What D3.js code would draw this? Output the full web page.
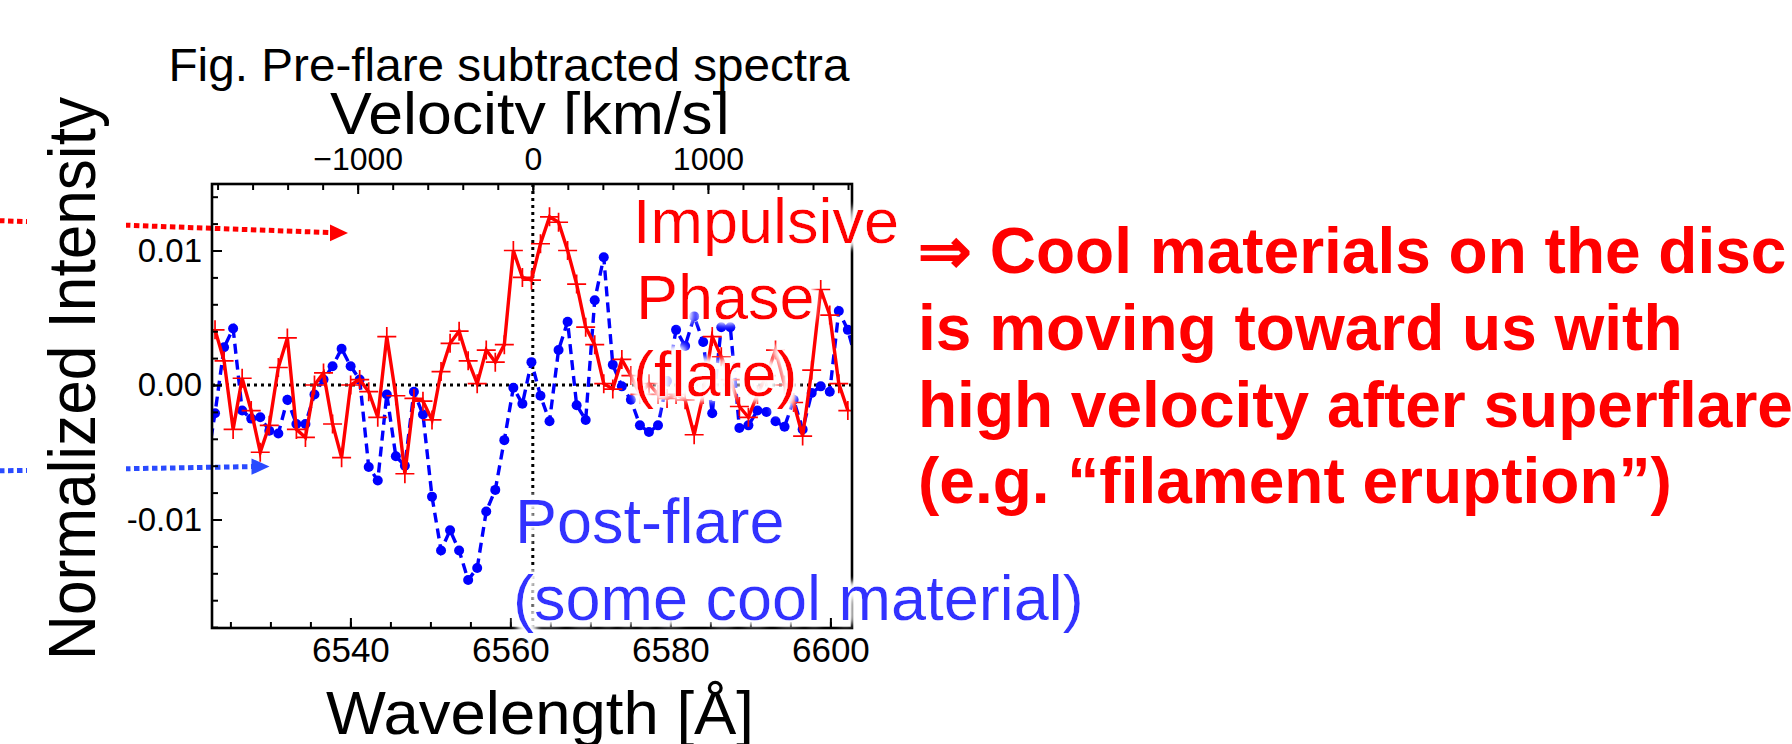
<!DOCTYPE html>
<html>
<head>
<meta charset="utf-8">
<script src="https://cdn.jsdelivr.net/npm/d3@7"></script>
<style>
  body { margin: 0; background: #fff; }
  svg { display: block; }
  text { font-family: "Liberation Sans", Arial, Helvetica, sans-serif; }
</style>
</head>
<body>
<svg id="chart" width="1792" height="744"></svg>
<script>
// Wavelength grid of the spectra [Å]
const wavelength = [
  6521.95, 6523.08, 6524.21, 6525.34, 6526.47, 6527.60, 6528.73, 6529.86, 6530.99, 6532.12,
  6533.25, 6534.38, 6535.51, 6536.64, 6537.77, 6538.90, 6540.03, 6541.16, 6542.29, 6543.42,
  6544.55, 6545.68, 6546.81, 6547.94, 6549.07, 6550.20, 6551.33, 6552.46, 6553.59, 6554.72,
  6555.85, 6556.98, 6558.11, 6559.24, 6560.37, 6561.50, 6562.63, 6563.76, 6564.89, 6566.02,
  6567.15, 6568.28, 6569.41, 6570.54, 6571.67, 6572.80, 6573.93, 6575.06, 6576.19, 6577.32,
  6578.45, 6579.58, 6580.71, 6581.84, 6582.97, 6584.10, 6585.23, 6586.36, 6587.49, 6588.62,
  6589.75, 6590.88, 6592.01, 6593.14, 6594.27, 6595.40, 6596.53, 6597.66, 6598.79, 6599.92,
  6601.05, 6602.18, 6603.31
];

// Pre-flare subtracted intensity, impulsive phase (flare)
const impulsive = [
  null,
  0.0041, 0.0018, -0.0033, 0.0005, -0.0019, -0.0050, -0.0030, 0.0013, 0.0035,
  -0.0033, -0.0039, 0.0000, 0.0009, -0.0029, -0.0054, 0.0000, 0.0004, -0.0005, -0.0024,
  0.0036, -0.0008, -0.0066, -0.0010, -0.0012, -0.0026, 0.0010, 0.0031, 0.0040, 0.0018,
  0.0001, 0.0026, 0.0017, 0.0030, 0.0100, 0.0080, 0.0078, 0.0105, 0.0125, 0.0121,
  0.0100, 0.0075, 0.0043, 0.0030, 0.0001, -0.0003, 0.0019, 0.0007, -0.0007, 0.0001,
  -0.0007, -0.0010, -0.0007, -0.0011, -0.0037, -0.0007, 0.0036, 0.0021, 0.0004, -0.0016,
  -0.0024, -0.0007, 0.0007, 0.0026, 0.0000, -0.0013, -0.0038, 0.0011, 0.0071, 0.0052,
  0.0001, -0.0019,
  null
];

// Pre-flare subtracted intensity, post-flare
const postFlare = [
  -0.0063,
  -0.0021, 0.0028, 0.0042, -0.0019, -0.0025, -0.0024, -0.0034, -0.0036, -0.0011,
  -0.0029, -0.0029, -0.0007, 0.0004, 0.0014, 0.0027, 0.0014, 0.0004, -0.0061, -0.0071,
  -0.0007, -0.0053, -0.0060, -0.0005, -0.0022, -0.0083, -0.0123, -0.0108, -0.0123, -0.0145,
  -0.0136, -0.0094, -0.0078, -0.0041, -0.0002, -0.0014, 0.0017, -0.0008, -0.0027, 0.0026,
  0.0047, -0.0015, -0.0026, 0.0063, 0.0095, 0.0015, -0.0001, -0.0011, -0.0030, -0.0035,
  -0.0030, 0.0003, 0.0041, 0.0029, 0.0051, 0.0032, -0.0021, 0.0043, 0.0043, -0.0032,
  -0.0030, -0.0019, -0.0020, -0.0027, -0.0031, -0.0011, -0.0033, -0.0006, -0.0001, -0.0005,
  0.0055, 0.0041,
  0.0016
];

// Axis ticks and their labels
const wavelengthTicks = [6540, 6560, 6580, 6600];
const intensityTicks = [-0.01, 0, 0.01];
const intensityTickLabels = ["-0.01", "0.00", "0.01"];
const velocityTicks = [-1000, 0, 1000];
const velocityTickLabels = ["\u22121000", "0", "1000"];

// Text
const titleText = "Fig. Pre-flare subtracted spectra";
const xTitle = "Wavelength [\u00c5]";
const yTitle = "Normalized Intensity";
const topTitle = "Velocity [km/s]";
const flareNote = ["Impulsive", "Phase", "(flare)"];
const postNote = ["Post-flare", "(some cool material)"];
const conclusion = [
  "\u21d2 Cool materials on the disc",
  "is moving toward us with",
  "high velocity after superflare",
  "(e.g. \u201cfilament eruption\u201d)"
];

const HALPHA = 6562.8;          // line centre [Å]
const C_KMS = 299792.458;       // speed of light [km/s]

const RED = "#ff0000";
const BLUE = "#0000ff";
const NOTE_BLUE = "#3333ff";
const ARROW_BLUE = "#2a4bff";

const svg = d3.select("#chart");
const box = { left: 212, right: 852, top: 184, bottom: 628 };

const x = d3.scaleLinear().domain([6522.7, 6602.7]).range([box.left, box.right]);
const y = d3.scaleLinear().domain([-0.018067, 0.014944]).range([box.bottom, box.top]);
const xv = d3.scaleLinear()
  .domain(x.domain().map(l => C_KMS * (l / HALPHA - 1)))
  .range(x.range());

// ---------- defs ----------
const defs = svg.append("defs");
defs.append("clipPath").attr("id", "plot-clip")
  .append("rect")
  .attr("x", box.left).attr("y", box.top)
  .attr("width", box.right - box.left).attr("height", box.bottom - box.top);
defs.append("clipPath").attr("id", "vel-clip")
  .append("rect").attr("x", 0).attr("y", 0).attr("width", 1792).attr("height", 134);

const halo = defs.append("filter").attr("id", "halo")
  .attr("x", "-10%").attr("y", "-20%").attr("width", "120%").attr("height", "140%");
halo.append("feMorphology").attr("in", "SourceAlpha").attr("operator", "dilate")
  .attr("radius", 3).attr("result", "fat");
halo.append("feGaussianBlur").attr("in", "fat").attr("stdDeviation", 3.5).attr("result", "soft");
halo.append("feFlood").attr("flood-color", "#ffffff").attr("result", "white");
halo.append("feComposite").attr("in", "white").attr("in2", "soft").attr("operator", "in").attr("result", "glow");
const merge = halo.append("feMerge");
merge.append("feMergeNode").attr("in", "glow");
merge.append("feMergeNode").attr("in", "glow");
merge.append("feMergeNode").attr("in", "SourceGraphic");

// ---------- pointer arrows from the left ----------
const arrows = svg.append("g");
arrows.append("line")
  .attr("x1", -10).attr("y1", 220.3).attr("x2", 331).attr("y2", 232.6)
  .attr("stroke", RED).attr("stroke-width", 5).attr("stroke-dasharray", "5.5 3.5");
arrows.append("path")
  .attr("d", "M330,224.6L348,232.9L330,241.2Z").attr("fill", RED);
arrows.append("line")
  .attr("x1", -10).attr("y1", 471).attr("x2", 252).attr("y2", 466.6)
  .attr("stroke", ARROW_BLUE).attr("stroke-width", 5).attr("stroke-dasharray", "5.5 3.5");
arrows.append("path")
  .attr("d", "M251.5,458.4L269.5,466.6L251.5,474.8Z").attr("fill", ARROW_BLUE);
// label backing box (hides the arrow tails behind the y title)
svg.append("rect").attr("x", 27).attr("y", 0).attr("width", 99).attr("height", 744).attr("fill", "#fff");

// ---------- reference lines ----------
const refs = svg.append("g").attr("stroke", "#000").attr("stroke-width", 3).attr("stroke-dasharray", "3 4");
refs.append("line").attr("x1", box.left).attr("x2", box.right).attr("y1", y(0)).attr("y2", y(0));
refs.append("line").attr("x1", x(HALPHA)).attr("x2", x(HALPHA)).attr("y1", box.top).attr("y2", box.bottom);

// ---------- data ----------
const postData = wavelength.map((w, i) => ({ w, v: postFlare[i] }));
const flareData = wavelength.map((w, i) => ({ w, v: impulsive[i] }));

const line = d3.line().defined(d => d.v != null).x(d => x(d.w)).y(d => y(d.v));
const dataG = svg.append("g").attr("clip-path", "url(#plot-clip)");

dataG.append("path").datum(postData)
  .attr("d", line).attr("fill", "none").attr("stroke", BLUE)
  .attr("stroke-width", 3.4).attr("stroke-dasharray", "10 6");
dataG.append("g").selectAll("circle").data(postData).join("circle")
  .attr("cx", d => x(d.w)).attr("cy", d => y(d.v)).attr("r", 5).attr("fill", BLUE);

dataG.append("path").datum(flareData)
  .attr("d", line).attr("fill", "none").attr("stroke", RED)
  .attr("stroke-width", 3.4).attr("stroke-linejoin", "miter");
dataG.append("g").selectAll("path").data(flareData.filter(d => d.v != null)).join("path")
  .attr("d", "M-9.5,0H9.5M0,-9.5V9.5")
  .attr("transform", d => `translate(${x(d.w)},${y(d.v)})`)
  .attr("stroke", RED).attr("stroke-width", 1.7).attr("fill", "none");

// ---------- axes ----------
function styleTicks(g, w) {
  g.select(".domain").remove();
  g.selectAll(".tick line").attr("stroke", "#000").attr("stroke-width", w);
}

// bottom: wavelength
svg.append("g").attr("transform", `translate(0,${box.bottom})`)
  .call(d3.axisBottom(x).tickValues(d3.range(6525, 6601, 5)).tickSize(-6).tickFormat(""))
  .call(g => styleTicks(g, 2));
const gx = svg.append("g").attr("transform", `translate(0,${box.bottom})`)
  .call(d3.axisBottom(x).tickValues(wavelengthTicks).tickSize(-10).tickPadding(9).tickFormat(d3.format("d")))
  .call(g => styleTicks(g, 2));
gx.selectAll("text").attr("font-size", 35).attr("fill", "#000").attr("font-family", null);

// left: intensity
svg.append("g").attr("transform", `translate(${box.left},0)`)
  .call(d3.axisLeft(y).tickValues(d3.range(-9, 8).map(k => k * 0.002)).tickSize(-6).tickFormat(""))
  .call(g => styleTicks(g, 2));
const gy = svg.append("g").attr("transform", `translate(${box.left},0)`)
  .call(d3.axisLeft(y).tickValues(intensityTicks).tickSize(-10).tickPadding(10)
    .tickFormat((d, i) => intensityTickLabels[i]))
  .call(g => styleTicks(g, 2));
gy.selectAll("text").attr("font-size", 33).attr("fill", "#000").attr("font-family", null);

// top: velocity
svg.append("g").attr("transform", `translate(0,${box.top})`)
  .call(d3.axisTop(xv).tickValues(d3.range(-9, 10).map(k => k * 200)).tickSize(-6).tickFormat(""))
  .call(g => styleTicks(g, 2));
const gt = svg.append("g").attr("transform", `translate(0,${box.top})`)
  .call(d3.axisTop(xv).tickValues(velocityTicks).tickSize(-10).tickPadding(14)
    .tickFormat((d, i) => velocityTickLabels[i]))
  .call(g => styleTicks(g, 2));
gt.selectAll("text").attr("font-size", 32).attr("fill", "#000").attr("font-family", null);

// frame
svg.append("rect")
  .attr("x", box.left).attr("y", box.top)
  .attr("width", box.right - box.left).attr("height", box.bottom - box.top)
  .attr("fill", "none").attr("stroke", "#000").attr("stroke-width", 2.6);

// ---------- titles ----------
svg.append("text").attr("x", 509).attr("y", 81).attr("text-anchor", "middle")
  .attr("font-size", 46).attr("textLength", 681).attr("lengthAdjust", "spacingAndGlyphs")
  .text(titleText);

svg.append("text").attr("x", 530).attr("y", 134).attr("text-anchor", "middle")
  .attr("font-size", 60).attr("textLength", 400).attr("lengthAdjust", "spacingAndGlyphs")
  .attr("clip-path", "url(#vel-clip)")
  .text(topTitle);

svg.append("text").attr("x", 540).attr("y", 734).attr("text-anchor", "middle")
  .attr("font-size", 62).attr("textLength", 428).attr("lengthAdjust", "spacingAndGlyphs")
  .text(xTitle);

svg.append("text").attr("transform", "translate(95,378.5) rotate(-90)")
  .attr("text-anchor", "middle")
  .attr("font-size", 66).attr("textLength", 563).attr("lengthAdjust", "spacingAndGlyphs")
  .text(yTitle);

// ---------- annotations ----------
const flareY = [243, 319, 396];
const flareX = [633, 636, 633];
svg.append("g").attr("filter", "url(#halo)").selectAll("text").data(flareNote).join("text")
  .attr("x", (d, i) => flareX[i]).attr("y", (d, i) => flareY[i])
  .attr("font-size", 63).attr("fill", RED).text(d => d);

const postY = [543, 620];
const postX = [515, 513];
svg.append("g").attr("filter", "url(#halo)").selectAll("text").data(postNote).join("text")
  .attr("x", (d, i) => postX[i]).attr("y", (d, i) => postY[i])
  .attr("font-size", 63).attr("fill", NOTE_BLUE).text(d => d);

const conclY = [272.7, 349.5, 426.5, 503.3];
svg.append("g").selectAll("text").data(conclusion).join("text")
  .attr("x", 918).attr("y", (d, i) => conclY[i])
  .attr("font-size", 64).attr("font-weight", "bold").attr("fill", RED).text(d => d);
</script>
</body>
</html>
